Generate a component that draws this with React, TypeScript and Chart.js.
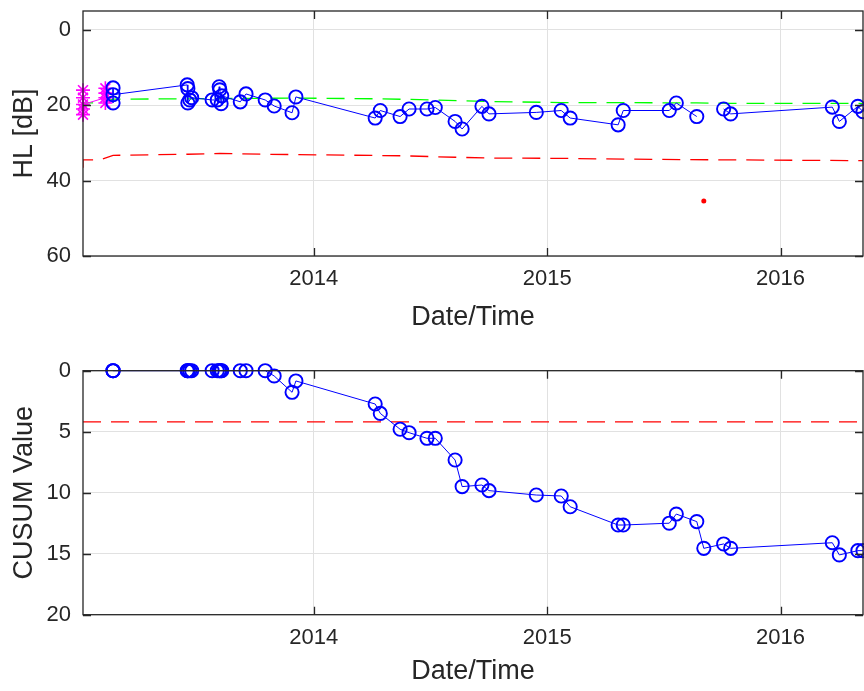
import React, { useEffect, useRef } from 'react';
import { Chart, registerables } from 'chart.js';

Chart.register(...registerables);

// ---- helpers ----------------------------------------------------------
const MS_PER_DAY = 86400000;
const day = (s: string) =>
  Date.UTC(+s.slice(0, 4), +s.slice(5, 7) - 1, +s.slice(8, 10)) / MS_PER_DAY;

// ---- axis ranges and ticks ---------------------------------------------
const xStart = '2013-01-05';
const xEnd = '2016-05-09';
const yearTickDates = ['2014-01-01', '2015-01-01', '2016-01-01'];
const yearTickLabels = ['2014', '2015', '2016'];
const hlTicks = [0, 20, 40, 60];
const cusumTicks = [0, 5, 10, 15, 20];

// ---- baseline audiograms (magenta stars) -------------------------------
const baselineDates = [
  '2013-01-05', '2013-01-05', '2013-01-05', '2013-01-05', '2013-01-05',
  '2013-02-09', '2013-02-09', '2013-02-09', '2013-02-09',
];
const baselineHL = [16.0, 22.5, 18.0, 21.0, 19.8, 18.0, 15.5, 19.4, 16.8];

// ---- follow-up tests (blue circles) -----------------------------------
const testDates = [
  '2013-02-21', '2013-02-21', '2013-02-21',
  '2013-06-17', '2013-06-18', '2013-06-18', '2013-06-21', '2013-06-24',
  '2013-07-26',
  '2013-08-03', '2013-08-06', '2013-08-07', '2013-08-09', '2013-08-10',
  '2013-09-08', '2013-09-17', '2013-10-17', '2013-10-31', '2013-11-28', '2013-12-04',
  '2014-04-07', '2014-04-15', '2014-05-16', '2014-05-30', '2014-06-27', '2014-07-10',
  '2014-08-10', '2014-08-21', '2014-09-21', '2014-10-02', '2014-12-15',
  '2015-01-23', '2015-02-06', '2015-04-22', '2015-04-30', '2015-07-11', '2015-07-22',
  '2015-08-23', '2015-09-03', '2015-10-04', '2015-10-15',
  '2016-03-22', '2016-04-02', '2016-05-01', '2016-05-09',
];
// hearing level per test; null where the test was flagged as an outlier
const testHL: (number | null)[] = [
  15.4, 19.4, 17.2,
  14.6, 15.6, 19.4, 18.6, 18.0,
  18.6,
  18.6, 15.1, 15.9, 19.6, 17.5,
  19.1, 17.0, 18.6, 20.2, 22.0, 17.8,
  23.4, 21.4, 23.0, 21.0, 21.0, 20.6,
  24.3, 26.3, 20.3, 22.3, 21.9,
  21.4, 23.4, 25.2, 21.4, 21.4, 19.4,
  23.0, null, 21.0, 22.3,
  20.5, 24.3, 20.3, 21.7,
];
const cusumValues = [
  0, 0, 0,
  0, 0, 0, 0, 0,
  0,
  0, 0, 0, 0, 0,
  0, 0, 0, 0.43, 1.77, 0.84,
  2.73, 3.5, 4.8, 5.08, 5.54, 5.54,
  7.32, 9.5, 9.37, 9.83, 10.19,
  10.27, 11.15, 12.65, 12.65, 12.5, 11.75,
  12.37, 14.56, 14.2, 14.56,
  14.1, 15.1, 14.75, 14.75,
];

// ---- flagged outlier (red dot) ----------------------------------------
const outlierDates = ['2015-09-03'];
const outlierHL = [45.4];

// ---- reference mean (green) and alarm limit (red) ---------------------
const meanDates = [
  '2013-01-05', '2013-01-05', '2013-01-31', '2013-02-21', '2013-06-18', '2013-12-04',
  '2014-04-15', '2014-07-10', '2014-10-02', '2015-01-23', '2015-04-30', '2015-08-23',
  '2015-10-15', '2016-05-09',
];
const meanHL = [21.5, 19.4, 19.4, 18.4, 18.3, 18.1, 18.3, 18.6, 19.0, 19.3, 19.3, 19.4, 19.5, 19.5];

const limitDates = [
  '2013-01-05', '2013-01-05', '2013-01-31', '2013-02-21', '2013-06-18', '2013-08-07',
  '2013-10-17', '2013-12-04', '2014-05-16', '2014-08-10', '2014-10-02', '2015-01-23',
  '2015-05-01', '2015-10-15', '2016-05-09',
];
const limitHL = [36.6, 34.5, 34.5, 33.3, 33.0, 32.8, 33.0, 33.1, 33.4, 33.8, 34.0, 34.1, 34.3, 34.5, 34.7];

const cusumThreshold = 4.2;

// ---- styling ----------------------------------------------------------
const FONT = '"Liberation Sans", Arial, Helvetica, sans-serif';
const INK = '#262626';
const GRID = '#e1e1e1';
const TICK_FONT = { family: FONT, size: 22 };
const TITLE_FONT = { family: FONT, size: 27 };

const pts = (dates: string[], vals: (number | null)[]) =>
  dates.map((d, i) => ({ x: day(d), y: vals[i] }));

// Axes box with inward tick marks on all four sides
const framePlugin = {
  id: 'frame',
  afterDatasetsDraw(chart: any) {
    const { ctx, chartArea: a, scales } = chart;
    const L = 8;
    ctx.save();
    ctx.strokeStyle = INK;
    ctx.lineWidth = 1.3;
    ctx.strokeRect(a.left, a.top, a.right - a.left, a.bottom - a.top);
    ctx.beginPath();
    scales.x.ticks.forEach((t: any) => {
      const p = Math.round(scales.x.getPixelForValue(t.value)) + 0.5;
      ctx.moveTo(p, a.bottom);
      ctx.lineTo(p, a.bottom - L);
      ctx.moveTo(p, a.top);
      ctx.lineTo(p, a.top + L);
    });
    scales.y.ticks.forEach((t: any) => {
      const p = Math.round(scales.y.getPixelForValue(t.value)) + 0.5;
      ctx.moveTo(a.left, p);
      ctx.lineTo(a.left + L, p);
      ctx.moveTo(a.right, p);
      ctx.lineTo(a.right - L, p);
    });
    ctx.stroke();
    ctx.restore();
  },
};

// the axes own no extra edge padding, so the plot box lands where layout.padding puts it
const noEdgePadding = (s: any) => {
  s.paddingTop = 0;
  s.paddingBottom = 0;
  s.paddingLeft = 0;
  s.paddingRight = 0;
};

function xScale(axisHeight: number, titleBottom: number) {
  return {
    type: 'linear' as const,
    min: day(xStart),
    max: day(xEnd),
    afterBuildTicks: (s: any) => {
      s.ticks = yearTickDates.map((d) => ({ value: day(d) }));
    },
    afterFit: (s: any) => {
      s.height = axisHeight;
      noEdgePadding(s);
    },
    grid: { color: GRID, lineWidth: 1, drawTicks: false },
    border: { display: false },
    ticks: {
      padding: 10,
      color: INK,
      font: TICK_FONT,
      maxRotation: 0,
      autoSkip: false,
      callback: (v: number) => {
        const i = yearTickDates.findIndex((d) => day(d) === v);
        return i >= 0 ? yearTickLabels[i] : '';
      },
    },
    title: {
      display: true,
      text: 'Date/Time',
      color: INK,
      font: TITLE_FONT,
      padding: { top: 0, bottom: titleBottom },
    },
  };
}

function yScale(min: number, max: number, ticks: number[], title: string) {
  return {
    type: 'linear' as const,
    reverse: true,
    min,
    max,
    afterBuildTicks: (s: any) => {
      s.ticks = ticks.map((v) => ({ value: v }));
    },
    afterFit: (s: any) => {
      s.width = 83;
      noEdgePadding(s);
    },
    grid: { color: GRID, lineWidth: 1, drawTicks: false },
    border: { display: false },
    ticks: { padding: 12, color: INK, font: TICK_FONT, autoSkip: false },
    title: {
      display: true,
      text: title,
      color: INK,
      font: TITLE_FONT,
      padding: { top: 8, bottom: 0 },
    },
  };
}

const circleStyle = {
  pointStyle: 'circle',
  pointRadius: 6.6,
  pointBorderWidth: 1.9,
  pointBorderColor: '#0000ff',
  pointBackgroundColor: 'rgba(0,0,0,0)',
};

function hlConfig(): any {
  return {
    type: 'scatter',
    data: {
      datasets: [
        {
          data: pts(testDates, testHL),
          showLine: true,
          spanGaps: false,
          borderColor: '#0000ff',
          borderWidth: 1,
          ...circleStyle,
          clip: false,
          order: 1,
        },
        {
          data: pts(outlierDates, outlierHL),
          pointStyle: 'circle',
          pointRadius: 2.5,
          pointBorderWidth: 0,
          pointBackgroundColor: '#ff0000',
          clip: false,
          order: 2,
        },
        {
          data: pts(baselineDates, baselineHL),
          showLine: true,
          borderColor: '#ff00ff',
          borderWidth: 1,
          pointStyle: 'star',
          pointRadius: 7,
          pointBorderWidth: 1.6,
          pointBorderColor: '#ff00ff',
          pointBackgroundColor: '#ff00ff',
          clip: false,
          order: 3,
        },
        {
          data: pts(meanDates, meanHL),
          showLine: true,
          borderColor: '#00ff00',
          borderWidth: 1.3,
          borderDash: [18, 10],
          pointRadius: 0,
          order: 4,
        },
        {
          data: pts(limitDates, limitHL),
          showLine: true,
          borderColor: '#ff0000',
          borderWidth: 1.3,
          borderDash: [18, 10],
          pointRadius: 0,
          order: 5,
        },
      ],
    },
    options: {
      responsive: false,
      animation: false,
      events: [],
      layout: { autoPadding: false, padding: { top: 11, right: 1, left: 0, bottom: 0 } },
      plugins: { legend: { display: false }, tooltip: { enabled: false } },
      scales: {
        x: xScale(89, 10.8),
        y: yScale(-5, 60, hlTicks, 'HL [dB]'),
      },
    },
    plugins: [framePlugin],
  };
}

function cusumConfig(): any {
  return {
    type: 'scatter',
    data: {
      datasets: [
        {
          data: pts(testDates, cusumValues),
          showLine: true,
          borderColor: '#0000ff',
          borderWidth: 1,
          ...circleStyle,
          clip: false,
          order: 1,
        },
        {
          data: [
            { x: day(xStart), y: cusumThreshold },
            { x: day(xEnd), y: cusumThreshold },
          ],
          showLine: true,
          borderColor: '#ff0000',
          borderWidth: 1.3,
          borderDash: [18, 10],
          pointRadius: 0,
          order: 2,
        },
      ],
    },
    options: {
      responsive: false,
      animation: false,
      events: [],
      layout: { autoPadding: false, padding: { top: 25.7, right: 1, left: 0, bottom: 0 } },
      plugins: { legend: { display: false }, tooltip: { enabled: false } },
      scales: {
        x: xScale(76.3, 2.8),
        y: yScale(0, 20, cusumTicks, 'CUSUM Value'),
      },
    },
    plugins: [framePlugin],
  };
}

function ChartCanvas({ make, width, height }: { make: () => any; width: number; height: number }) {
  const ref = useRef<HTMLCanvasElement | null>(null);
  useEffect(() => {
    if (!ref.current) return;
    const chart = new Chart(ref.current, make());
    return () => chart.destroy();
  }, [make]);
  return (
    <canvas
      ref={ref}
      width={width}
      height={height}
      style={{ display: 'block', width, height }}
    />
  );
}

export default function App() {
  return (
    <div
      style={{
        position: 'fixed',
        left: 0,
        top: 0,
        width: 864,
        height: 691,
        background: '#ffffff',
        overflow: 'hidden',
      }}
    >
      <ChartCanvas make={hlConfig} width={864} height={345} />
      <ChartCanvas make={cusumConfig} width={864} height={346} />
    </div>
  );
}
